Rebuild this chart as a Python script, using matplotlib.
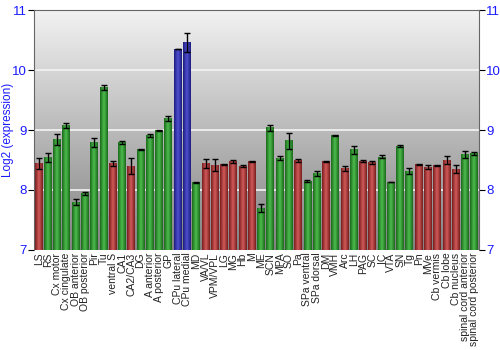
import numpy as np
import matplotlib
matplotlib.use("Agg")
import matplotlib.pyplot as plt
from matplotlib.colors import LinearSegmentedColormap

plt.rcParams['font.family'] = ['Liberation Sans', 'DejaVu Sans']

regions = ["LS", "RS", "Cx motor", "Cx cingulate", "OB anterior", "OB posterior",
           "Pir", "Tu", "ventral S", "CA1", "CA2/CA3", "DG", "A anterior",
           "A posterior", "GP", "CPu lateral", "CPu medial", "MD", "VA/VL",
           "VPM/VPL", "LG", "MG", "Hb", "M", "ME", "SCN", "MPA", "SO", "Pa",
           "SPa ventral", "SPa dorsal", "DM", "VMH", "Arc", "LH", "PAG", "SC",
           "IC", "VTA", "SN", "Tg", "Pn", "MVe", "Cb vermis", "Cb lobe",
           "Cb nucleus", "spinal cord anterior", "spinal cord posterior"]
values = [8.44, 8.54, 8.84, 9.08, 7.80, 7.94, 8.79, 9.71, 8.44, 8.79, 8.40, 8.67,
          8.91, 8.99, 9.19, 10.35, 10.46, 8.13, 8.44, 8.41, 8.42, 8.48, 8.40, 8.47,
          7.70, 9.04, 8.53, 8.82, 8.49, 8.15, 8.28, 8.48, 8.91, 8.36, 8.67, 8.48,
          8.46, 8.55, 8.13, 8.73, 8.31, 8.42, 8.38, 8.41, 8.50, 8.35, 8.59, 8.61]
errors = [0.09, 0.08, 0.09, 0.04, 0.05, 0.02, 0.08, 0.04, 0.04, 0.03, 0.13, 0.01,
          0.03, 0.01, 0.04, 0.005, 0.155, 0.01, 0.08, 0.10, 0.01, 0.025, 0.015, 0.01,
          0.06, 0.05, 0.035, 0.13, 0.02, 0.01, 0.04, 0.01, 0.015, 0.04, 0.07, 0.02,
          0.03, 0.025, 0.005, 0.02, 0.05, 0.005, 0.035, 0.01, 0.065, 0.07, 0.065, 0.025]
# r = red, g = green, b = blue
groups = "rggggggg" + "rgrgggg" + "bb" + "grrrrrr" + "ggggr" + "ggrgrgrrggggrrrrrgg"

base = {"r": ["#7a1e1e", "#d25a5a", "#7a1e1e"],
        "g": ["#1c6a1c", "#4cbc4c", "#1c6a1c"],
        "b": ["#1c1c80", "#5050d0", "#1c1c80"]}
cmaps = {k: LinearSegmentedColormap.from_list(k, v) for k, v in base.items()}

fig = plt.figure(figsize=(5, 3.5), dpi=100)
ax = fig.add_axes([0.068, 0.286, 0.89, 0.685])

ymin, ymax = 7, 11
n = len(regions)
ax.set_xlim(-0.5, n - 0.5)
ax.set_ylim(ymin, ymax)

# gray gradient background, light at top
bg = np.linspace(0, 1, 256).reshape(-1, 1)
bgmap = LinearSegmentedColormap.from_list("bg", ["#f2f2f2", "#828282"])
ax.imshow(bg, cmap=bgmap, aspect="auto", extent=(-0.5, n - 0.5, ymin, ymax),
          origin="upper", zorder=0)

for yv in [8, 9, 10]:
    ax.axhline(yv, color="#f4f4f4", lw=1.2, zorder=1)

w = 0.86
grad = np.linspace(0, 1, 32).reshape(1, -1)
for i, (v, c) in enumerate(zip(values, groups)):
    ax.imshow(grad, cmap=cmaps[c], aspect="auto",
              extent=(i - w / 2, i + w / 2, ymin, v), zorder=2)

ax.errorbar(np.arange(n), values, yerr=errors, fmt="none", ecolor="black",
            elinewidth=1, capsize=2, capthick=1, zorder=3)

ax.set_xticks(np.arange(n))
ax.set_xticklabels(regions, rotation=90, fontsize=7.5, color="#222222")
ax.tick_params(axis="x", length=0, pad=2)
ax.set_yticks([7, 8, 9, 10, 11])
ax.tick_params(axis="y", colors="black", labelcolor="#1a1aff", labelsize=9.5,
               length=4, pad=1, right=True, labelright=True)
ax.set_ylabel("Log2 (expression)", color="#1a1aff", fontsize=8.5)
ax.yaxis.set_label_coords(-0.044, 0.5)

for s in ["left", "right", "top"]:
    ax.spines[s].set_color("#666666")
ax.spines["bottom"].set_visible(False)

fig.savefig("out.png", dpi=100)
